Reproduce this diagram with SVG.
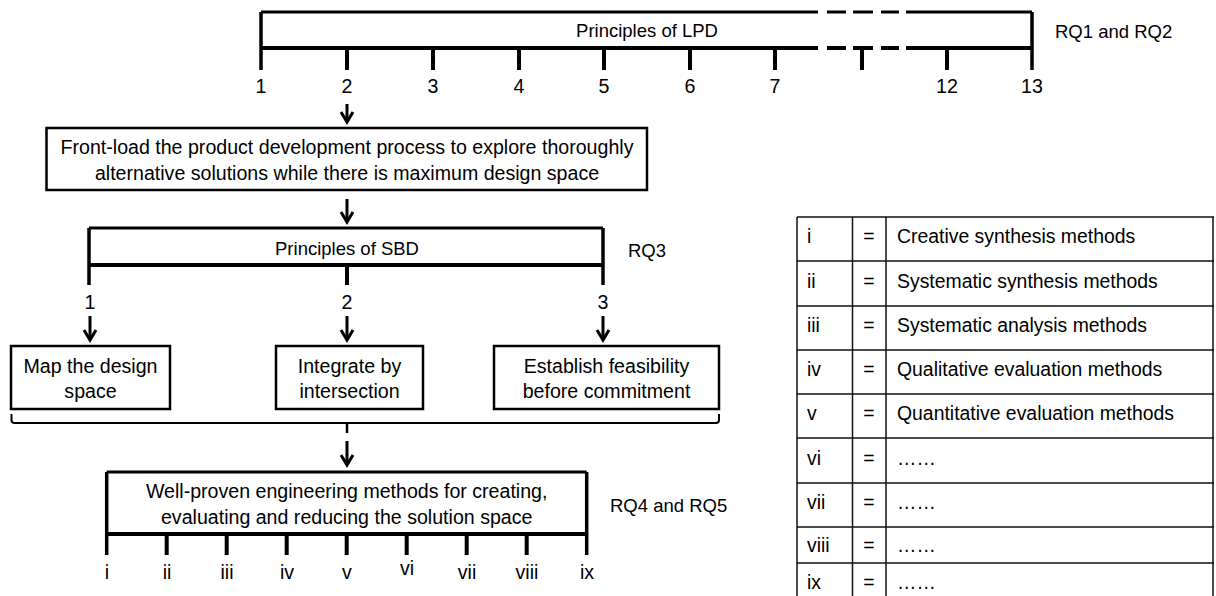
<svg xmlns="http://www.w3.org/2000/svg" width="1216" height="596" viewBox="0 0 1216 596">
<style>
text{font-family:"Liberation Sans",Arial,sans-serif;font-size:19.6px;fill:#000}
.c{text-anchor:middle}
.t{font-size:18.5px}
.tb text{font-size:19.4px}
.ln{fill:none;stroke:#000;stroke-width:3.5}
.thin{fill:none;stroke:#000;stroke-width:3}
.bot{fill:none;stroke:#000;stroke-width:4}
.box{fill:#fff;stroke:#000;stroke-width:2.5}
.arr{stroke:#000;stroke-width:3;fill:none}
.grid{stroke:#111;stroke-width:1.5;fill:none}
</style>
<defs>
<marker id="ah" markerUnits="userSpaceOnUse" markerWidth="16" markerHeight="16" viewBox="-2 -8 14 16" refX="10" refY="0" orient="auto">
<path d="M0,-6 L10,0 L0,6" fill="none" stroke="#000" stroke-width="3"/>
</marker>
</defs>
<rect width="1216" height="596" fill="#fff"/>

<g id="lpd">
<path class="thin" d="M261,12 H818 M827,12 H846 M853,12 H873 M881,12 H899 M906,12 H1032"/>
<path class="bot" d="M261,48 H818 M827,48 H846 M853,48 H873 M881,48 H899 M906,48 H1032"/>
<path class="ln" d="M261,12 V70 M1032,12 V70"/>
<path class="bot" d="M347,48 V70 M433,48 V70 M519,48 V70 M604,48 V70 M690,48 V70 M775,48 V70 M862,48 V70 M947,48 V70"/>
<text class="c t" x="647" y="37">Principles of LPD</text>
<text class="c" x="261" y="93">1</text>
<text class="c" x="347" y="93">2</text>
<text class="c" x="433" y="93">3</text>
<text class="c" x="519" y="93">4</text>
<text class="c" x="604" y="93">5</text>
<text class="c" x="690" y="93">6</text>
<text class="c" x="775" y="93">7</text>
<text class="c" x="947" y="93">12</text>
<text class="c" x="1032" y="93">13</text>
<text class="t" x="1055" y="38">RQ1 and RQ2</text>
</g>

<g id="frontload">
<rect class="box" x="46.5" y="128" width="600.5" height="62"/>
<text class="c" x="347" y="153.5">Front-load the product development process to explore thoroughly</text>
<text class="c" x="347" y="179.5">alternative solutions while there is maximum design space</text>
</g>

<g id="sbd">
<path class="thin" d="M89,228 H603"/>
<path class="ln" d="M89,228 V285 M603,228 V285"/>
<path class="bot" d="M89,265 H603 M347,265 V285"/>
<text class="c t" x="347" y="254.5">Principles of SBD</text>
<text class="c" x="90" y="309">1</text>
<text class="c" x="347" y="309">2</text>
<text class="c" x="603" y="309">3</text>
<text class="t" x="628" y="257">RQ3</text>
</g>

<g id="map">
<rect class="box" x="11" y="346" width="159" height="63"/>
<text class="c" x="90.5" y="373">Map the design</text>
<text class="c" x="90.5" y="397.5">space</text>
</g>

<g id="integrate">
<rect class="box" x="276" y="346" width="147" height="63"/>
<text class="c" x="349.5" y="373">Integrate by</text>
<text class="c" x="349.5" y="397.5">intersection</text>
</g>

<g id="establish">
<rect class="box" x="494" y="346" width="225" height="63"/>
<text class="c" x="606.5" y="373">Establish feasibility</text>
<text class="c" x="606.5" y="397.5">before commitment</text>
</g>

<g id="methods">
<path class="thin" d="M106.7,472 H586.7"/>
<path class="ln" d="M106.7,472 V555 M586.7,472 V555"/>
<path class="bot" d="M106.7,534 H586.7 M166.7,534 V555 M226.7,534 V555 M286.7,534 V555 M346.7,534 V555 M406.7,534 V555 M466.7,534 V555 M526.7,534 V555"/>
<text class="c" x="346.7" y="498">Well-proven engineering methods for creating,</text>
<text class="c" x="346.7" y="523.5">evaluating and reducing the solution space</text>
<text class="c" x="107" y="579">i</text>
<text class="c" x="167" y="579">ii</text>
<text class="c" x="227" y="579">iii</text>
<text class="c" x="287" y="579">iv</text>
<text class="c" x="347" y="579">v</text>
<text class="c" x="407" y="575">vi</text>
<text class="c" x="467" y="579">vii</text>
<text class="c" x="527" y="579">viii</text>
<text class="c" x="587" y="579">ix</text>
<text class="t" x="610" y="512">RQ4 and RQ5</text>
</g>

<g id="connectors">
<line class="arr" x1="347" y1="104" x2="347" y2="122" marker-end="url(#ah)"/>
<line class="arr" x1="347" y1="199" x2="347" y2="222" marker-end="url(#ah)"/>
<line class="arr" x1="90" y1="316" x2="90" y2="340" marker-end="url(#ah)"/>
<line class="arr" x1="347" y1="316" x2="347" y2="340" marker-end="url(#ah)"/>
<line class="arr" x1="603" y1="316" x2="603" y2="340" marker-end="url(#ah)"/>
<path fill="none" stroke="#000" stroke-width="2" d="M11.5,414 V420 Q11.5,423 14.5,423 H716 Q719,423 719,420 V414"/>
<path fill="none" stroke="#000" stroke-width="2.5" d="M347,423 V433"/>
<line class="arr" x1="347" y1="441" x2="347" y2="465" marker-end="url(#ah)"/>
</g>

<g id="legend" class="tb">
<path class="grid" d="M797,217 H1214 M797,261 H1214 M797,306 H1214 M797,350 H1214 M797,394 H1214 M797,438 H1214 M797,483 H1214 M797,527 H1214 M797,563 H1214 M797,217 V600 M852.5,217 V600 M886,217 V600 M1213,217 V600"/>
<text x="807" y="243">i</text><text class="c" x="869" y="243">=</text><text x="897" y="243">Creative synthesis methods</text>
<text x="807" y="288">ii</text><text class="c" x="869" y="288">=</text><text x="897" y="288">Systematic synthesis methods</text>
<text x="807" y="332">iii</text><text class="c" x="869" y="332">=</text><text x="897" y="332">Systematic analysis methods</text>
<text x="807" y="376">iv</text><text class="c" x="869" y="376">=</text><text x="897" y="376">Qualitative evaluation methods</text>
<text x="807" y="420">v</text><text class="c" x="869" y="420">=</text><text x="897" y="420">Quantitative evaluation methods</text>
<text x="807" y="465">vi</text><text class="c" x="869" y="465">=</text><text x="897" y="465">……</text>
<text x="807" y="509">vii</text><text class="c" x="869" y="509">=</text><text x="897" y="509">……</text>
<text x="807" y="552">viii</text><text class="c" x="869" y="552">=</text><text x="897" y="552">……</text>
<text x="807" y="589">ix</text><text class="c" x="869" y="589">=</text><text x="897" y="589">……</text>
</g>
</svg>
